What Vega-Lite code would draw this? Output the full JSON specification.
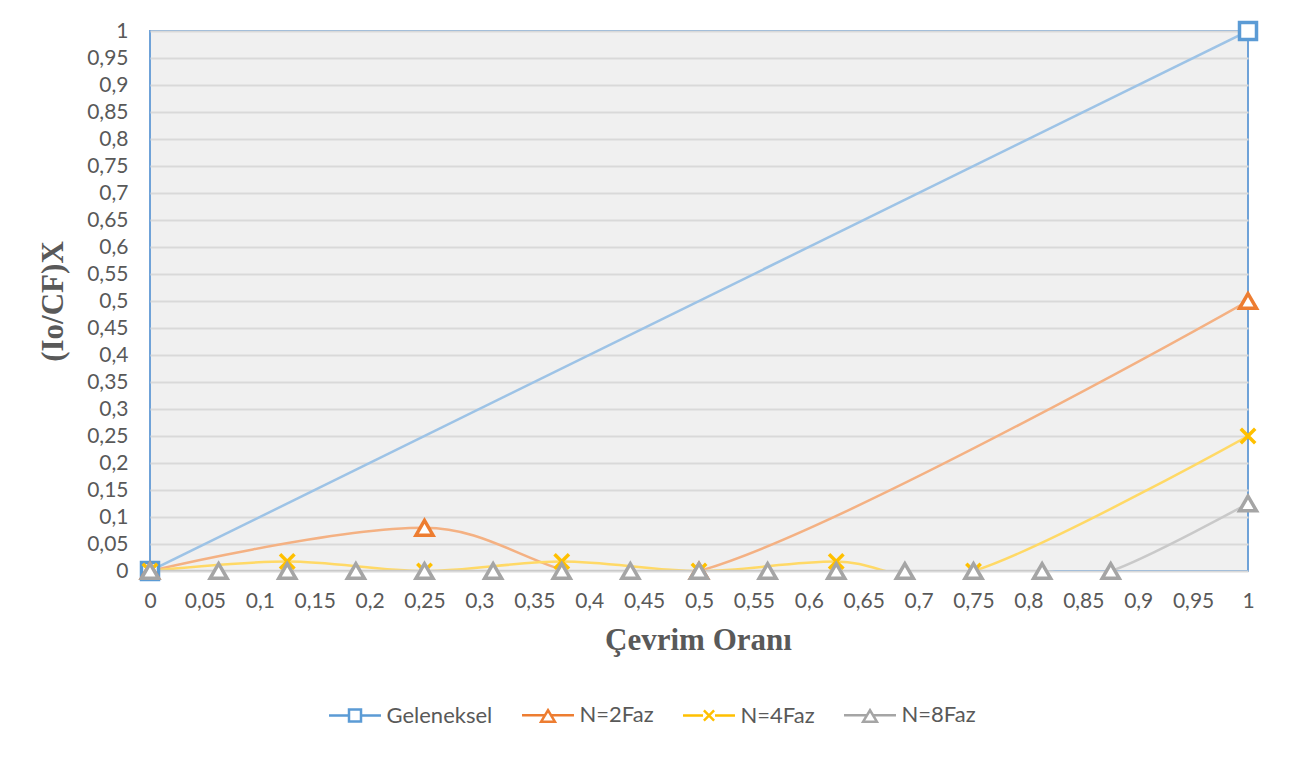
{
  "$schema": "https://vega.github.io/schema/vega-lite/v6.json",
  "width": 1098,
  "height": 540,
  "autosize": {"type": "none"},
  "padding": {"left": 150, "top": 31, "right": 47, "bottom": 187},
  "background": "white",
  "config": {
    "view": {"fill": "#f0f0f0", "stroke": "#6fa2d8", "strokeWidth": 2},
    "font": "Lato"
  },
  "data": {
    "values": [
      {"x": 0, "y": 0, "series": "Geleneksel"},
      {"x": 1, "y": 1, "series": "Geleneksel"},
      {"x": 0, "y": 0, "series": "N=2Faz"},
      {"x": 0.25, "y": 0.08, "series": "N=2Faz"},
      {"x": 0.5, "y": 0, "series": "N=2Faz"},
      {"x": 1, "y": 0.5, "series": "N=2Faz"},
      {"x": 0, "y": 0, "series": "N=4Faz"},
      {"x": 0.125, "y": 0.0175, "series": "N=4Faz"},
      {"x": 0.25, "y": 0, "series": "N=4Faz"},
      {"x": 0.375, "y": 0.0175, "series": "N=4Faz"},
      {"x": 0.5, "y": 0, "series": "N=4Faz"},
      {"x": 0.625, "y": 0.0175, "series": "N=4Faz"},
      {"x": 0.75, "y": 0, "series": "N=4Faz"},
      {"x": 1, "y": 0.25, "series": "N=4Faz"},
      {"x": 0, "y": 0, "series": "N=8Faz"},
      {"x": 0.0625, "y": 0, "series": "N=8Faz"},
      {"x": 0.125, "y": 0, "series": "N=8Faz"},
      {"x": 0.1875, "y": 0, "series": "N=8Faz"},
      {"x": 0.25, "y": 0, "series": "N=8Faz"},
      {"x": 0.3125, "y": 0, "series": "N=8Faz"},
      {"x": 0.375, "y": 0, "series": "N=8Faz"},
      {"x": 0.4375, "y": 0, "series": "N=8Faz"},
      {"x": 0.5, "y": 0, "series": "N=8Faz"},
      {"x": 0.5625, "y": 0, "series": "N=8Faz"},
      {"x": 0.625, "y": 0, "series": "N=8Faz"},
      {"x": 0.6875, "y": 0, "series": "N=8Faz"},
      {"x": 0.75, "y": 0, "series": "N=8Faz"},
      {"x": 0.8125, "y": 0, "series": "N=8Faz"},
      {"x": 0.875, "y": 0, "series": "N=8Faz"},
      {"x": 1, "y": 0.125, "series": "N=8Faz"}
    ]
  },
  "encoding": {
    "x": {
      "field": "x", "type": "quantitative",
      "scale": {"domain": [0, 1], "nice": false},
      "axis": {
        "tickCount": 20, "format": ".2~f", "labelExpr": "replace(datum.label, '.', ',')",
        "grid": false, "domain": false, "ticks": false,
        "labelFlush": false, "labelOverlap": false,
        "labelFont": "Lato", "labelFontSize": 21, "labelColor": "#595959", "labelPadding": 19,
        "title": "Çevrim Oranı", "titleFont": "Liberation Serif", "titleFontWeight": "bold",
        "titleFontSize": 31, "titleColor": "#595959",
        "titleX": 548, "titleY": 78, "titleBaseline": "alphabetic", "titleAlign": "center"
      }
    },
    "y": {
      "field": "y", "type": "quantitative",
      "scale": {"domain": [0, 1], "nice": false},
      "axis": {
        "tickCount": 20, "format": ".2~f", "labelExpr": "replace(datum.label, '.', ',')",
        "grid": true, "gridColor": "#d9d9d9", "gridWidth": 2,
        "domain": false, "ticks": false,
        "labelFlush": false, "labelOverlap": false,
        "labelFont": "Lato", "labelFontSize": 21, "labelColor": "#595959", "labelPadding": 22,
        "title": "(Io/CF)X", "titleFont": "Liberation Serif", "titleFontWeight": "bold",
        "titleFontSize": 31, "titleColor": "#595959", "titleAngle": -90,
        "titleX": -88, "titleY": 270, "titleBaseline": "alphabetic", "titleAlign": "center"
      }
    }
  },
  "layer": [
    {
      "mark": {"type": "line", "interpolate": "cardinal", "strokeWidth": 2.5, "clip": true},
      "encoding": {
        "color": {
          "field": "series", "type": "nominal",
          "scale": {"domain": ["N=8Faz", "N=4Faz", "N=2Faz", "Geleneksel"], "range": ["#c9c9c9", "#ffd966", "#f4b183", "#9dc3e6"]},
          "legend": null
        }
      }
    },
    {
      "mark": {"type": "point", "fill": "white", "strokeWidth": 3.5, "size": 289, "opacity": 1},
      "encoding": {
        "stroke": {
          "field": "series", "type": "nominal",
          "scale": {"domain": ["Geleneksel", "N=2Faz", "N=4Faz", "N=8Faz"], "range": ["#5b9bd5", "#ed7d31", "#ffc000", "#a5a5a5"]},
          "legend": {
            "orient": "none", "legendX": 194, "legendY": 673, "direction": "horizontal", "title": null,
            "symbolSize": 144, "symbolStrokeWidth": 2.5, "symbolOffset": 0, "labelOffset": 20.5,
            "symbolFillColor": "white",
            "symbolType": {"expr": "datum.value === 'Geleneksel' ? 'M-4.33,0H-1M1,0H4.33M-1,-1H1V1H-1Z' : datum.value === 'N=4Faz' ? 'M-4.33,0H-1M1,0H4.33M-0.85,-0.85L0.85,0.85M-0.85,0.85L0.85,-0.85' : 'M-4.33,0H-0.55M0.55,0H4.33M0,-0.85L1.15,1.05H-1.15Z'"},
            "columnPadding": 24, "padding": 0,
            "labelFont": "Lato", "labelFontSize": 22, "labelColor": "#595959"
          }
        },
        "shape": {
          "field": "series", "type": "nominal",
          "scale": {"domain": ["N=8Faz", "N=4Faz", "N=2Faz", "Geleneksel"], "range": ["triangle-up", "M-0.85,-0.85L0.85,0.85M-0.85,0.85L0.85,-0.85", "triangle-up", "square"]},
          "legend": null
        }
      }
    }
  ]
}
